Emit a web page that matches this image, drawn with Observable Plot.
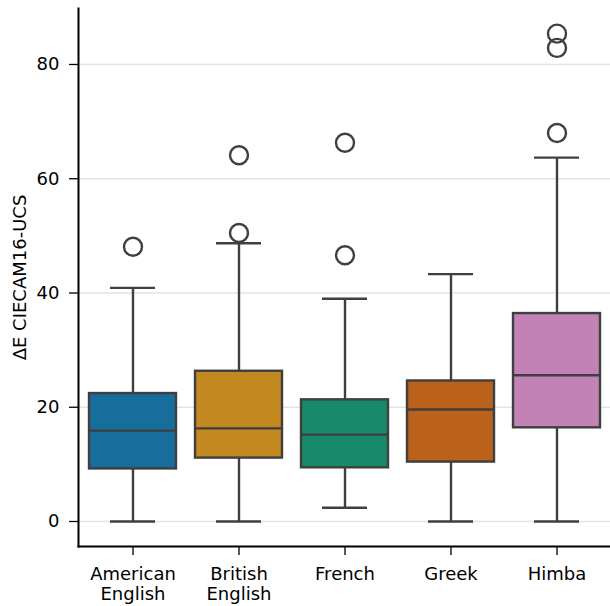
<!DOCTYPE html>
<html>
<head>
<meta charset="utf-8">
<script src="https://cdn.jsdelivr.net/npm/d3@7"></script>
<script src="https://cdn.jsdelivr.net/npm/@observablehq/plot@0.6"></script>
<style>
  html, body { margin: 0; padding: 0; background: #fff; }
  #chart { width: 610px; height: 606px; }
</style>
</head>
<body>
<div id="chart"></div>
<script>
const categories = ["American English", "British English", "French", "Greek", "Himba"];
const whiskerLow  = [0.0, 0.0, 2.4, 0.0, 0.0];
const q1          = [9.2, 11.1, 9.4, 10.4, 16.4];
const median      = [15.9, 16.3, 15.2, 19.6, 25.6];
const q3          = [22.4, 26.3, 21.3, 24.6, 36.4];
const whiskerHigh = [40.9, 48.7, 39.0, 43.3, 63.7];
const outlierCategory = ["American English", "British English", "British English", "French", "French", "Himba", "Himba", "Himba"];
const outlierValue    = [48.1, 50.5, 64.1, 46.6, 66.3, 68.0, 82.9, 85.4];
const colors = ["#176d9c", "#c38820", "#168a6a", "#ba611b", "#c282b6"];
const yTicks = [0, 20, 40, 60, 80];

const boxes = categories.map((c, i) => ({
  cat: c, lo: whiskerLow[i], q1: q1[i], med: median[i], q3: q3[i], hi: whiskerHigh[i]
}));
const outliers = outlierCategory.map((c, i) => ({cat: c, v: outlierValue[i]}));

const edge = "#3f3f3f";
const font = "DejaVu Sans, sans-serif";

const plot = Plot.plot({
  width: 610,
  height: 606,
  marginTop: 8,
  marginBottom: 60,
  marginLeft: 78,
  marginRight: 0,
  style: {fontFamily: font, fontSize: "17.6px", background: "#fff", color: "#000"},
  x: {domain: categories, paddingInner: 0.18, paddingOuter: 0.09, axis: null},
  y: {domain: [-4.376, 89.80], axis: null},
  color: {domain: categories, range: colors},
  marks: [
    Plot.gridY(yTicks, {stroke: "#e3e3e3", strokeOpacity: 1, strokeWidth: 1.6}),
    Plot.ruleX(boxes, {x: "cat", y1: "lo", y2: "q1", stroke: edge, strokeWidth: 2.4}),
    Plot.ruleX(boxes, {x: "cat", y1: "q3", y2: "hi", stroke: edge, strokeWidth: 2.4}),
    Plot.tickY(boxes, {x: "cat", y: "lo", stroke: edge, strokeWidth: 2.4, insetLeft: 21, insetRight: 21}),
    Plot.tickY(boxes, {x: "cat", y: "hi", stroke: edge, strokeWidth: 2.4, insetLeft: 21, insetRight: 21}),
    Plot.barY(boxes, {x: "cat", y1: "q1", y2: "q3", fill: "cat", stroke: edge, strokeWidth: 2.4}),
    Plot.tickY(boxes, {x: "cat", y: "med", stroke: edge, strokeWidth: 2.4}),
    Plot.dot(outliers, {x: "cat", y: "v", r: 9, stroke: edge, strokeWidth: 2.4, fill: "none"}),
    Plot.axisY(yTicks, {tickSize: 9, tickPadding: 10, tickFormat: d => String(d), fontSize: 18,
      label: "ΔE CIECAM16-UCS", labelAnchor: "center", labelArrow: "none", labelOffset: 65, stroke: "#000", strokeWidth: 1.3}),
    Plot.axisX({tickSize: 9, tickPadding: 10, fontSize: 18, lineHeight: 1.12,
      tickFormat: d => d.replace(" ", "\n"), label: null, stroke: "#000", strokeWidth: 1.3}),
    Plot.frame({anchor: "left", stroke: "#000", strokeWidth: 2}),
    Plot.frame({anchor: "bottom", stroke: "#000", strokeWidth: 2})
  ]
});
document.getElementById("chart").appendChild(plot);
</script>
</body>
</html>
